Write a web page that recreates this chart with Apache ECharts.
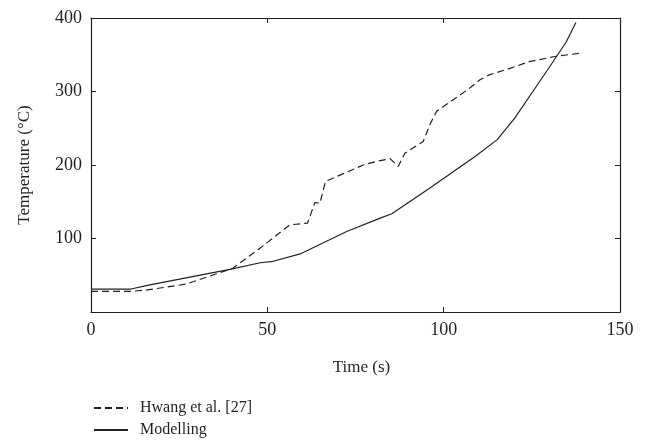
<!DOCTYPE html>
<html><head><meta charset="utf-8">
<script src="https://cdn.jsdelivr.net/npm/echarts@6/dist/echarts.min.js"></script>
<style>html,body{margin:0;padding:0;background:#fff}#c{width:646px;height:447px}</style>
</head><body><div id="c"></div>
<script>
const hwangTime = [0, 11, 16, 27, 35.6, 40, 48, 56.4, 61.4, 63.5, 64.9, 66.5, 77.2, 81, 84.8, 87.1, 89, 94.2, 96.1, 98, 107.5, 110.3, 113.1, 117.9, 124.5, 132, 138.6];
const hwangTemp = [28, 28, 30, 38, 52, 59, 87, 118.6, 121, 149, 148, 177.7, 200, 205, 208.6, 198, 216, 232, 255, 273, 305, 316, 323, 330, 341, 348, 352];
const modelTime = [0, 11, 16.7, 39.4, 48, 51.7, 59.3, 72.5, 82, 85.3, 96.1, 108.9, 115.2, 120.2, 125, 130.1, 134.7, 137.5];
const modelTemp = [31, 31, 37, 58, 67, 69, 79, 109.5, 127.7, 133.6, 168.6, 211.7, 234.5, 264, 298, 334, 367, 394];
const xTicks = [0, 50, 100, 150];
const yTicks = [100, 200, 300, 400];

const font = "'Liberation Serif', 'DejaVu Serif', serif";
const ink = '#231f20';
const chart = echarts.init(document.getElementById('c'));
const pairs = (a, b) => a.map((v, i) => [v, b[i]]);
const axisLine = {show: true, onZero: false, lineStyle: {color: ink, width: 1.2}};
const tick = {show: true, inside: true, length: 5, lineStyle: {color: ink, width: 1}};
chart.setOption({
  animation: false,
  grid: {left: 91, right: 26, top: 18, bottom: 135, show: false},
  legend: {
    orient: 'vertical', left: 93, top: 400, padding: 0,
    itemWidth: 34, itemHeight: 14, itemGap: 6,
    itemStyle: {opacity: 0},
    textStyle: {fontFamily: font, fontSize: 16, color: ink, padding: [0, 0, 0, 7]},
    data: ['Hwang et al. [27]', 'Modelling']
  },
  xAxis: [{
    type: 'value', min: 0, max: 150, interval: 50, position: 'bottom',
    axisLine: axisLine, axisTick: tick, splitLine: {show: false},
    axisLabel: {fontFamily: font, fontSize: 18, color: ink, margin: 9,
      formatter: v => xTicks.includes(v) ? String(v) : ''},
    name: 'Time (s)', nameLocation: 'middle', nameGap: 47,
    nameTextStyle: {fontFamily: font, fontSize: 17, color: ink, padding: [0, 0, 0, 12]}
  }, {
    type: 'value', min: 0, max: 150, interval: 50, position: 'top',
    axisLine: axisLine, axisTick: tick, splitLine: {show: false}, axisLabel: {show: false}
  }],
  yAxis: [{
    type: 'value', min: 0, max: 400, interval: 100, position: 'left',
    axisLine: axisLine, axisTick: tick, splitLine: {show: false},
    axisLabel: {fontFamily: font, fontSize: 18, color: ink, margin: 9,
      formatter: v => yTicks.includes(v) ? String(v) : ''},
    name: 'Temperature (°C)', nameLocation: 'middle', nameGap: 58, nameRotate: 90,
    nameTextStyle: {fontFamily: font, fontSize: 17, color: ink}
  }, {
    type: 'value', min: 0, max: 400, interval: 100, position: 'right',
    axisLine: axisLine, axisTick: tick, splitLine: {show: false}, axisLabel: {show: false}
  }],
  series: [{
    name: 'Hwang et al. [27]', type: 'line', symbol: 'none',
    data: pairs(hwangTime, hwangTemp),
    lineStyle: {color: ink, width: 1.2, type: [7, 4]}, itemStyle: {color: ink}
  }, {
    name: 'Modelling', type: 'line', symbol: 'none',
    data: pairs(modelTime, modelTemp),
    lineStyle: {color: ink, width: 1.2}, itemStyle: {color: ink}
  }]
});
</script></body></html>
